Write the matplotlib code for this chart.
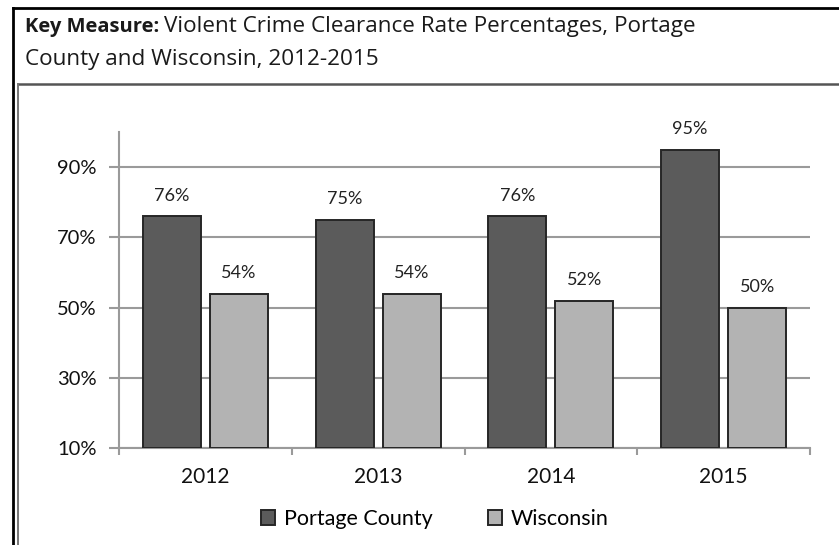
import matplotlib
matplotlib.use("Agg")
import matplotlib.pyplot as plt
from matplotlib.lines import Line2D
import numpy as np

years = ["2012", "2013", "2014", "2015"]
portage = [76, 75, 76, 95]
wisconsin = [54, 54, 52, 50]
series_names = ["Portage County", "Wisconsin"]
yticks = [10, 30, 50, 70, 90]

plt.rcParams['font.family'] = ['Lato', 'DejaVu Sans']

W, H = 839, 545
fig = plt.figure(figsize=(W / 100, H / 100), dpi=100)
ax = fig.add_axes([119 / W, 1 - 448 / H, (810 - 119) / W, (448 - 132) / H])

x = np.arange(len(years))
bw = 0.336
off = 0.194
dark, light = "#5b5b5b", "#b3b3b3"
edge = "#262626"
b1 = ax.bar(x - off, np.array(portage) - 10, bw, bottom=10, color=dark,
            edgecolor=edge, linewidth=1.4, zorder=3, label=series_names[0])
b2 = ax.bar(x + off, np.array(wisconsin) - 10, bw, bottom=10, color=light,
            edgecolor=edge, linewidth=1.4, zorder=3, label=series_names[1])

for xs, vals in [(x - off, portage), (x + off, wisconsin)]:
    for xi, v in zip(xs, vals):
        ax.text(xi, v + 4.4, "%d%%" % v, ha='center', va='baseline',
                fontsize=13, color="#222222")

ax.set_xlim(-0.5, len(years) - 0.5)
ax.set_ylim(10, 100)
ax.set_yticks(yticks)
ax.set_yticklabels(["%d%%" % t for t in yticks], fontsize=14.5, color="#111111")
ax.set_xticks(x)
ax.set_xticklabels(years, fontsize=15, color="#111111")
ax.set_xticks(np.arange(-0.5, len(years)), minor=True)
ax.tick_params(axis='x', which='major', length=0, pad=14)
ax.tick_params(axis='x', which='minor', length=5, width=1.5, color="#9a9a9a")
ax.tick_params(axis='y', length=7, width=1.5, color="#9a9a9a", pad=9)

ax.yaxis.grid(True, color="#9a9a9a", linewidth=1.5, zorder=0)
ax.set_axisbelow(True)
for s in ['top', 'right']:
    ax.spines[s].set_visible(False)
for s in ['left', 'bottom']:
    ax.spines[s].set_color("#9a9a9a")
    ax.spines[s].set_linewidth(1.5)

leg = fig.legend(handles=[b1, b2], labels=series_names, loc='center',
                 bbox_to_anchor=(435 / W, 1 - 519 / H), ncol=2, frameon=False,
                 fontsize=15.5, handlelength=0.65, handleheight=0.65,
                 handletextpad=0.4, columnspacing=2.6)

# frame lines around the figure panel
def fline(xs, ys, **kw):
    fig.add_artist(Line2D([v / W for v in xs], [1 - v / H for v in ys],
                          transform=fig.transFigure, **kw))

fline([13, 13], [8, H], color="black", linewidth=2)
fline([13, W], [8, 8], color="black", linewidth=2)
fline([18, W], [84, 84], color="#555555", linewidth=1.8)
fline([18, 18], [84, H], color="#777777", linewidth=1.4)

# title: bold lead-in followed by regular text
tfont = ['Open Sans', 'DejaVu Sans']
t1 = fig.text(25 / W, 1 - 32 / H, "Key Measure:", fontsize=14.5, fontweight='bold',
              family=tfont, color="#1a1a1a", va='baseline', ha='left')
renderer = fig.canvas.get_renderer()
bb = t1.get_window_extent(renderer)
fig.text(bb.x1 / W + 5 / W, 1 - 32 / H,
         "Violent Crime Clearance Rate Percentages, Portage",
         fontsize=16.2, family=tfont, color="#1a1a1a", va='baseline', ha='left')
fig.text(25 / W, 1 - 65 / H, "County and Wisconsin, 2012-2015",
         fontsize=16.2, family=tfont, color="#1a1a1a", va='baseline', ha='left')

fig.savefig("out.png", dpi=100)
